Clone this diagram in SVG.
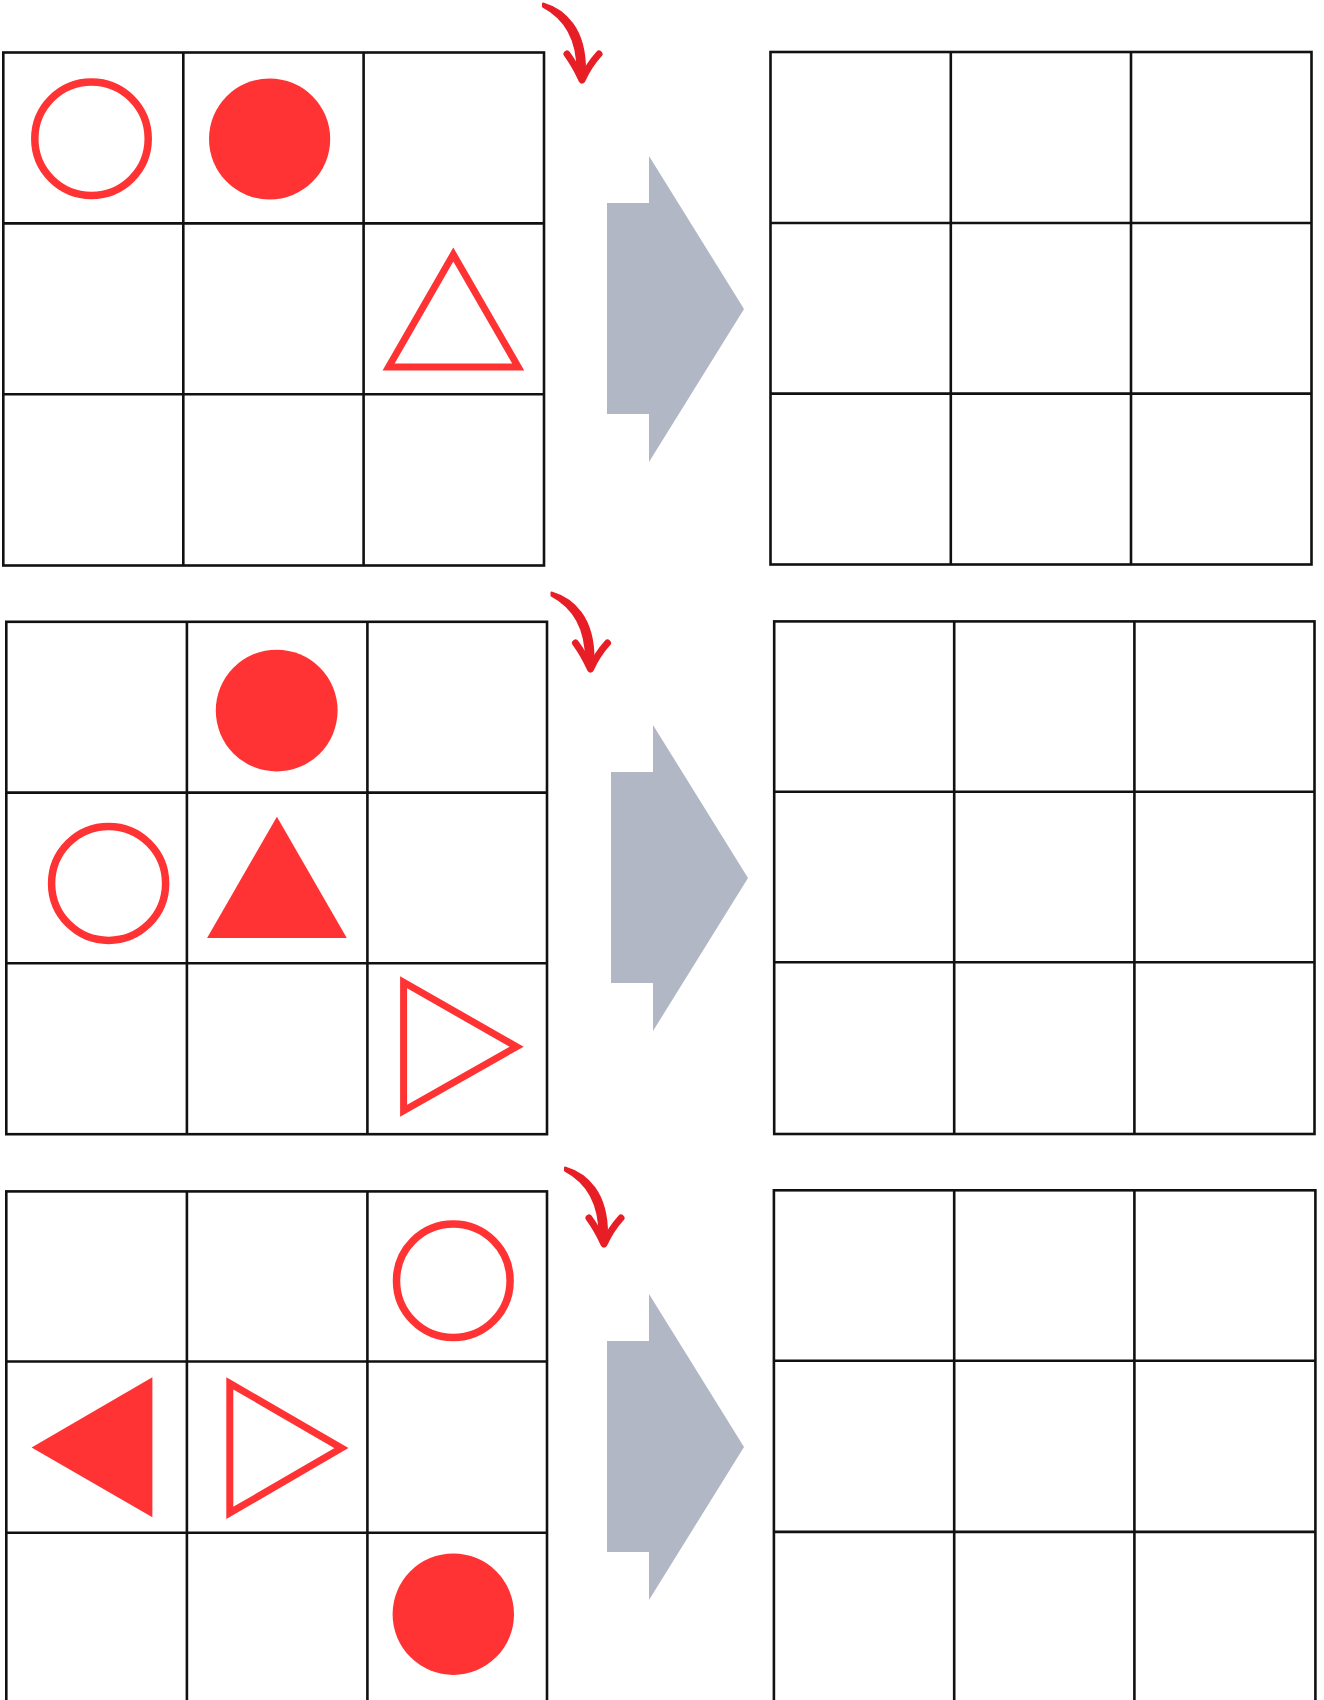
<svg xmlns="http://www.w3.org/2000/svg" xmlns:xlink="http://www.w3.org/1999/xlink" width="1324" height="1700" viewBox="0 0 1324 1700">
<defs>
<style>
.grid{fill:none;stroke:#111;stroke-width:2.6}
.ring{fill:none;stroke:#FF3333;stroke-width:7.5}
.dot{fill:#FF3333}
.otri{fill:none;stroke:#FF3333;stroke-width:7;stroke-linejoin:miter}
.ftri{fill:#FF3333}
.big{fill:#B2B7C6}
.shaft{fill:#E81E26;stroke:#E81E26;stroke-width:2;stroke-linejoin:round}
.curl{fill:none;stroke:#E81E26;stroke-width:7;stroke-linecap:round;stroke-linejoin:round}
</style>
<g id="curlArrow">
<path class="shaft" d="M0,-1.5 C22,5 42.5,24 42,66 L34.5,66 C34.5,29 18,11 0,1.5 Z"/>
<path class="curl" d="M24,49 Q32,60 39,75 Q46,60 56,49"/>
</g>
<polygon id="bigArrow" class="big" points="0,47 42,47 42,0 137,153 42,306 42,258 0,258"/>
</defs>
<rect width="1324" height="1700" fill="#fff"/>

<!-- Row 1 -->
<g id="grid1-left">
<rect class="grid" x="3.3" y="52.5" width="540.7" height="513"/>
<path class="grid" d="M183.3,52.5V565.5M363.6,52.5V565.5M3.3,223.4H544M3.3,394.2H544"/>
</g>
<g id="g1-ring"><circle class="ring" cx="91.5" cy="138.7" r="56.7"/></g>
<g id="g1-dot"><circle class="dot" cx="269.6" cy="139" r="60.6"/></g>
<g id="g1-tri"><polygon class="otri" points="453.3,254.5 388.6,366.9 518.2,366.9"/></g>

<g id="grid1-right">
<rect class="grid" x="770.5" y="52" width="541" height="512.5"/>
<path class="grid" d="M950.8,52V564.5M1131,52V564.5M770.5,223H1311.5M770.5,393.6H1311.5"/>
</g>

<!-- Row 2 -->
<g id="grid2-left">
<rect class="grid" x="6.3" y="621.8" width="540.7" height="512.4"/>
<path class="grid" d="M186.9,621.8V1134.2M367.4,621.8V1134.2M6.3,792.6H547M6.3,963.3H547"/>
</g>
<g id="g2-dot"><circle class="dot" cx="276.7" cy="710.6" r="60.9"/></g>
<g id="g2-ring"><circle class="ring" cx="108.6" cy="883.4" r="57"/></g>
<g id="g2-ftri"><polygon class="ftri" points="276.9,816.8 346.8,938.1 207.1,938.1"/></g>
<g id="g2-otri"><polygon class="otri" points="403.6,982.3 516.6,1046.7 403.6,1110.8"/></g>

<g id="grid2-right">
<rect class="grid" x="774.2" y="621.4" width="540.3" height="512.6"/>
<path class="grid" d="M954.2,621.4V1134M1134.4,621.4V1134M774.2,791.8H1314.5M774.2,962.2H1314.5"/>
</g>

<!-- Row 3 -->
<g id="grid3-left">
<rect class="grid" x="6.3" y="1191.4" width="540.7" height="513"/>
<path class="grid" d="M186.9,1191.4V1704M367.4,1191.4V1704M6.3,1361.5H547M6.3,1532.7H547"/>
</g>
<g id="g3-ring"><circle class="ring" cx="453.3" cy="1280.7" r="56.8"/></g>
<g id="g3-ftri"><polygon class="ftri" points="31.6,1447.4 152.4,1377.3 152.4,1517.2"/></g>
<g id="g3-otri"><polygon class="otri" points="229.8,1383.4 341.5,1448.1 229.8,1512.9"/></g>
<g id="g3-dot"><circle class="dot" cx="453.3" cy="1614.2" r="60.7"/></g>

<g id="grid3-right">
<rect class="grid" x="773.9" y="1190.3" width="541.5" height="513"/>
<path class="grid" d="M954.2,1190.3V1704M1134.4,1190.3V1704M773.9,1360.8H1315.4M773.9,1531.9H1315.4"/>
</g>

<!-- Connectors -->
<g id="connectors">
<use xlink:href="#bigArrow" href="#bigArrow" x="607" y="156"/>
<use xlink:href="#bigArrow" href="#bigArrow" x="611" y="725"/>
<use xlink:href="#bigArrow" href="#bigArrow" x="607" y="1294"/>
<use xlink:href="#curlArrow" href="#curlArrow" x="543" y="5"/>
<use xlink:href="#curlArrow" href="#curlArrow" x="551.5" y="594"/>
<use xlink:href="#curlArrow" href="#curlArrow" x="565" y="1169"/>
</g>
</svg>
